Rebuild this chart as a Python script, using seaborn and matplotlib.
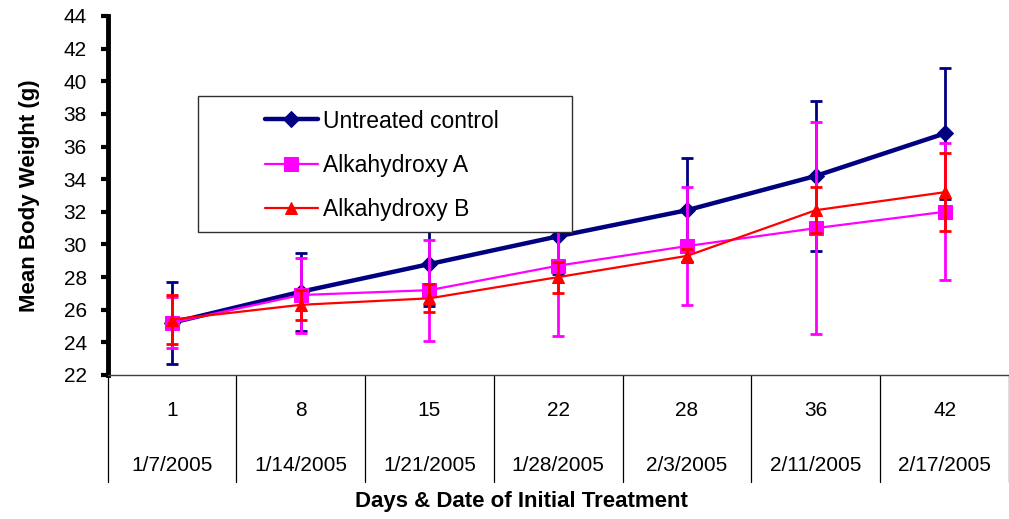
import numpy as np
import pandas as pd
import matplotlib
matplotlib.use("Agg")
import matplotlib.pyplot as plt
import matplotlib.transforms as mtransforms
from matplotlib.patches import Rectangle
import seaborn as sns

# data
days = ["1", "8", "15", "22", "28", "36", "42"]
dates = ["1/7/2005", "1/14/2005", "1/21/2005", "1/28/2005", "2/3/2005", "2/11/2005", "2/17/2005"]

control_mean = [25.2, 27.1, 28.8, 30.5, 32.1, 34.2, 36.8]
control_err = [2.5, 2.4, 2.6, 2.3, 3.2, 4.6, 4.0]
alk_a_mean = [25.2, 26.9, 27.2, 28.7, 29.9, 31.0, 32.0]
alk_a_err = [1.55, 2.3, 3.1, 4.3, 3.6, 6.5, 4.2]
alk_b_mean = [25.4, 26.3, 26.7, 28.0, 29.3, 32.1, 33.2]
alk_b_err = [1.5, 0.9, 0.85, 0.95, 0.4, 1.4, 2.4]

series_names = ["Untreated control", "Alkahydroxy A", "Alkahydroxy B"]

sns.set_style("white")
plt.rcParams['font.family'] = ['Liberation Sans', 'DejaVu Sans']
plt.rcParams['text.color'] = 'black'
plt.rcParams['axes.labelcolor'] = 'black'
plt.rcParams['ytick.color'] = 'black'
plt.rcParams['xtick.color'] = 'black'

pos = np.arange(len(days))
df = pd.DataFrame({
    "pos": np.tile(pos, 3),
    "weight": control_mean + alk_a_mean + alk_b_mean,
    "err": control_err + alk_a_err + alk_b_err,
    "group": np.repeat(series_names, len(days)),
})

styles = {
    "Untreated control": dict(color="#000080", marker="D", ms=8, lw=3.2, z=3),
    "Alkahydroxy A": dict(color="#FF00FF", marker="s", ms=9.5, lw=1.6, z=4),
    "Alkahydroxy B": dict(color="#FF0000", marker="^", ms=8.5, lw=1.6, z=5),
}

fig = plt.figure(figsize=(10.09, 5.19), dpi=100)
ax = fig.add_axes([107.5 / 1009, 1 - 375 / 519, 901.5 / 1009, 359 / 519])

for name in series_names:
    st = styles[name]
    sub = df[df["group"] == name]
    ax.errorbar(sub["pos"], sub["weight"], yerr=sub["err"], fmt="none",
                ecolor=st["color"], elinewidth=2, capsize=4.3, capthick=2,
                zorder=st["z"])
    sns.lineplot(data=sub, x="pos", y="weight", ax=ax, color=st["color"],
                 marker=st["marker"], markersize=st["ms"], linewidth=st["lw"],
                 markeredgecolor=st["color"], label=name, errorbar=None,
                 zorder=st["z"], legend=False)

ax.set_xlim(-0.5, len(days) - 0.5)
ax.set_ylim(22, 44)
ax.set_yticks(np.arange(22, 45, 2))
ax.set_xticks([])
ax.tick_params(axis="y", direction="out", length=5, width=3, pad=10,
               labelsize=15, color="black", labelcolor="black", left=True)
ax.set_xlabel("")
ax.set_ylabel("Mean Body Weight (g)", fontsize=16, fontweight="bold", labelpad=17)

for s in ["top", "right"]:
    ax.spines[s].set_visible(False)
ax.spines["left"].set_linewidth(3.5)
ax.spines["left"].set_color("black")
ax.spines["bottom"].set_linewidth(1)
ax.spines["bottom"].set_color("#404040")

# category table below the axis
trans = mtransforms.blended_transform_factory(ax.transData, ax.transAxes)
for i, (d, dt) in enumerate(zip(days, dates)):
    ax.text(i, -0.10, d, transform=trans, ha="center", va="center", fontsize=15)
    ax.text(i, -0.253, dt, transform=trans, ha="center", va="center", fontsize=15)
for b in np.arange(-0.5, len(days), 1):
    ax.axvline(b, ymin=-0.298, ymax=0, clip_on=False, color="black", lw=0.9)

fig.text(521 / 1009, 1 - 501 / 519, "Days & Date of Initial Treatment",
         ha="center", va="center", fontsize=16, fontweight="bold")

# legend box
box = Rectangle((90.5 / 901.5, (375 - 232) / 359), 374 / 901.5, 136 / 359,
                transform=ax.transAxes, facecolor="white", edgecolor="#303030",
                lw=1, zorder=10)
ax.add_patch(box)
handles, labels = ax.get_legend_handles_labels()
leg = ax.legend(handles, labels, loc="upper left",
                bbox_to_anchor=((265 - 107.5) / 901.5, (375 - 109.5) / 359),
                frameon=False, fontsize=16.5, borderpad=0, borderaxespad=0,
                labelspacing=0.93, handlelength=2.3, handletextpad=0.22)
leg.set_zorder(11)

fig.savefig("out.png", dpi=100)
